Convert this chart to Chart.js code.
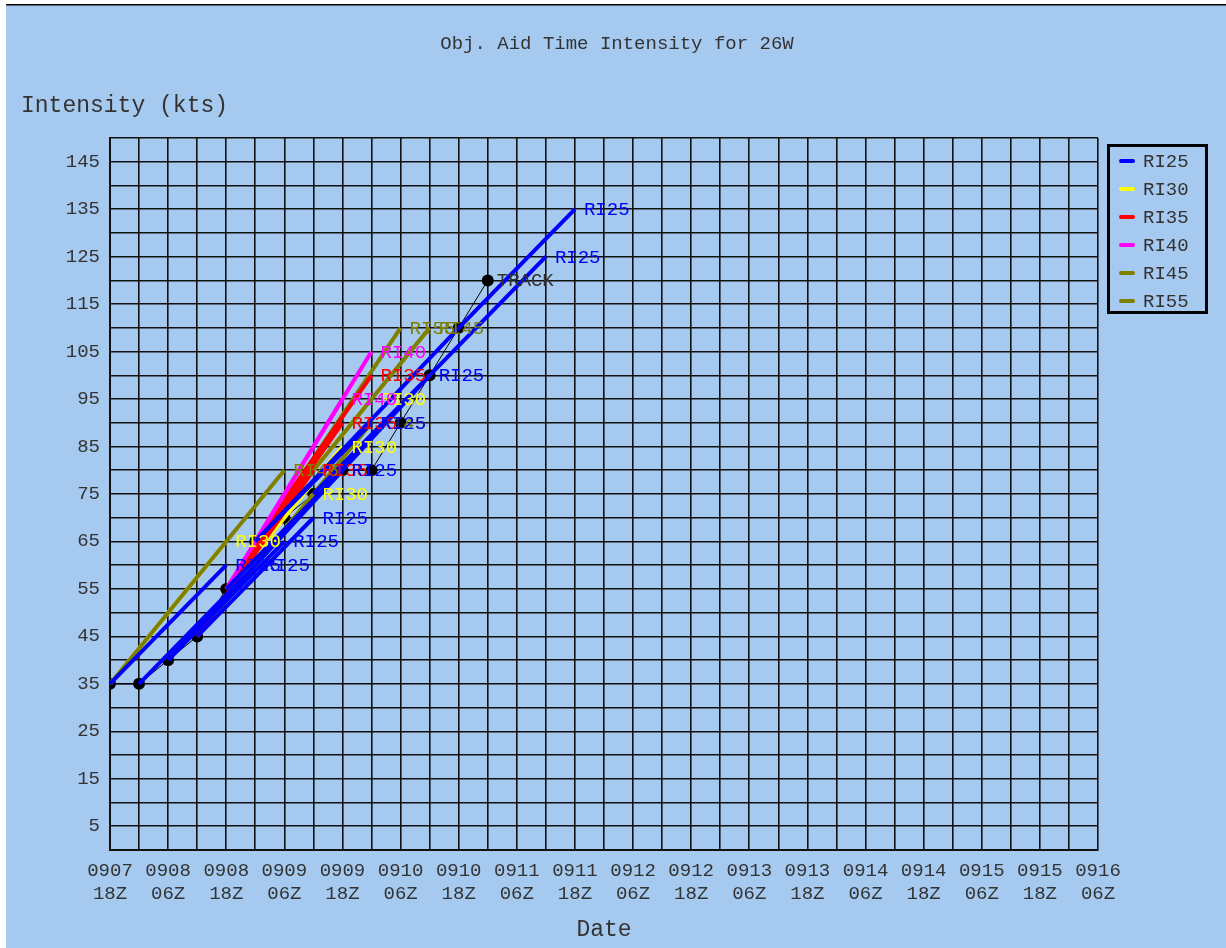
<!DOCTYPE html>
<html>
<head>
<meta charset="utf-8">
<script src="https://cdn.jsdelivr.net/npm/chart.js@4.4.0/dist/chart.umd.min.js"></script>
<style>
  html, body { margin: 0; padding: 0; background: #fff; }
</style>
</head>
<body>
<canvas id="c" width="1226" height="948"></canvas>
<script>
// x values are hours after 0907 18Z
var xTickLabels = ['0907 18Z', '0908 06Z', '0908 18Z', '0909 06Z', '0909 18Z', '0910 06Z',
  '0910 18Z', '0911 06Z', '0911 18Z', '0912 06Z', '0912 18Z', '0913 06Z', '0913 18Z',
  '0914 06Z', '0914 18Z', '0915 06Z', '0915 18Z', '0916 06Z'];
var yTickLabels = [5, 15, 25, 35, 45, 55, 65, 75, 85, 95, 105, 115, 125, 135, 145];

var trackHours = [0, 6, 12, 18, 24, 30, 36, 42, 48, 54, 60, 66, 72, 78];
var trackKts = [35, 35, 40, 45, 55, 65, 70, 75, 80, 80, 90, 100, 110, 120];

// each run: list of [hour, kts]
var ri25Runs = [
  [[0, 35], [24, 60]],
  [[6, 35], [30, 60]],
  [[12, 40], [36, 65]],
  [[18, 45], [42, 70]],
  [[24, 55], [48, 80]],
  [[30, 65], [54, 90]],
  [[12, 40], [66, 100]],
  [[42, 75], [66, 100], [90, 125]],
  [[30, 65], [72, 110], [96, 135]]
];
var ri30Runs = [
  [[0, 35], [24, 65]],
  [[18, 45], [42, 75]],
  [[24, 55], [48, 85]],
  [[30, 65], [54, 95]]
];
var ri35Runs = [
  [[18, 45], [42, 80]],
  [[24, 55], [48, 90]],
  [[30, 65], [54, 100]]
];
var ri40Runs = [
  [[24, 55], [48, 95]],
  [[30, 65], [54, 105]]
];
var ri45Runs = [
  [[0, 35], [36, 80]],
  [[18, 45], [54, 90]],
  [[30, 65], [66, 110]]
];
var ri55Runs = [
  [[24, 55], [60, 110]]
];

var aidNames = ['RI25', 'RI30', 'RI35', 'RI40', 'RI45', 'RI55'];
var aidColors = ['#0000ff', '#ffff00', '#ff0000', '#ff00ff', '#808000', '#808000'];
var allRuns = [ri25Runs, ri30Runs, ri35Runs, ri40Runs, ri45Runs, ri55Runs];

var FONT = '"Liberation Mono", "Courier New", monospace';

// dataset 0 is drawn on top: blue first, yellow last (underneath)
var drawOrder = [0, 3, 2, 4, 5, 1];
var datasets = [];
drawOrder.forEach(function (a) {
  allRuns[a].forEach(function (run) {
    datasets.push({
      label: aidNames[a],
      data: run.map(function (p) { return { x: p[0], y: p[1] }; }),
      borderColor: aidColors[a],
      backgroundColor: aidColors[a],
      borderWidth: 4,
      pointRadius: 0,
      fill: false,
      tension: 0,
      endLabel: aidNames[a]
    });
  });
});
datasets.push({
  label: 'TRACK',
  data: trackHours.map(function (h, i) { return { x: h, y: trackKts[i] }; }),
  borderColor: '#000',
  backgroundColor: '#000',
  borderWidth: 1,
  pointRadius: 6,
  pointBorderWidth: 0,
  fill: false,
  tension: 0,
  endLabel: 'TRACK'
});

var decor = {
  id: 'decor',
  beforeDraw: function (chart) {
    var ctx = chart.ctx;
    ctx.save();
    ctx.fillStyle = '#ffffff';
    ctx.fillRect(0, 0, chart.width, chart.height);
    ctx.fillStyle = '#a6c9ef';
    ctx.fillRect(6, 5, chart.width - 6, chart.height - 5);
    ctx.fillStyle = '#000';
    ctx.fillRect(6, 4, chart.width - 6, 1.5);
    ctx.restore();
  },
  afterDatasetsDraw: function (chart) {
    var ctx = chart.ctx;
    ctx.save();
    ctx.font = '19px ' + FONT;
    ctx.textBaseline = 'middle';
    // labels drawn from the bottom dataset up, so top series' labels win
    for (var i = chart.data.datasets.length - 1; i >= 0; i--) {
      var ds = chart.data.datasets[i];
      var pts = chart.getDatasetMeta(i).data;
      var last = pts[pts.length - 1];
      ctx.fillStyle = ds.endLabel === 'TRACK' ? '#333' : ds.borderColor;
      ctx.fillText(ds.endLabel, last.x + 9, last.y + 1);
    }
    ctx.restore();
  },
  afterDraw: function (chart) {
    var ctx = chart.ctx;
    ctx.save();
    ctx.fillStyle = '#333';
    ctx.textBaseline = 'middle';
    ctx.font = '19px ' + FONT;
    ctx.textAlign = 'center';
    ctx.fillText('Obj. Aid Time Intensity for 26W', 617, 44);
    ctx.font = '23px ' + FONT;
    ctx.textAlign = 'left';
    ctx.fillText('Intensity (kts)', 21, 106);

    // legend box
    ctx.lineWidth = 3;
    ctx.strokeStyle = '#000';
    ctx.strokeRect(1108.5, 145.5, 98, 167);
    ctx.font = '19px ' + FONT;
    ctx.lineCap = 'round';
    aidNames.forEach(function (name, i) {
      var y = 161 + i * 28;
      ctx.strokeStyle = aidColors[i];
      ctx.lineWidth = 4;
      ctx.beginPath();
      ctx.moveTo(1121, y);
      ctx.lineTo(1133, y);
      ctx.stroke();
      ctx.fillStyle = '#333';
      ctx.fillText(name, 1143, y + 1);
    });
    ctx.restore();
  }
};

new Chart(document.getElementById('c'), {
  type: 'line',
  data: { datasets: datasets },
  options: {
    responsive: false,
    animation: false,
    layout: { padding: { left: 0, right: 128, top: 138, bottom: 0 } },
    plugins: {
      legend: { display: false },
      tooltip: { enabled: false },
      title: { display: false }
    },
    scales: {
      x: {
        type: 'linear',
        min: 0,
        max: 204,
        grid: { color: '#111', lineWidth: 1.6, drawTicks: false },
        border: { color: '#111', width: 2 },
        ticks: {
          stepSize: 6,
          autoSkip: false,
          maxRotation: 0,
          padding: 9,
          color: '#333',
          font: { family: FONT, size: 19, lineHeight: 1.21 },
          callback: function (v) {
            if (v % 12 !== 0) return '';
            return xTickLabels[v / 12].split(' ');
          }
        },
        title: {
          display: true,
          text: 'Date',
          color: '#333',
          font: { family: FONT, size: 23 },
          padding: { top: 0, bottom: 4 }
        },
        afterFit: function (s) { s.height = 98; }
      },
      y: {
        min: 0,
        max: 150,
        grid: { color: '#111', lineWidth: 1.6, drawTicks: false },
        border: { color: '#111', width: 2 },
        ticks: {
          stepSize: 5,
          autoSkip: false,
          padding: 10,
          color: '#333',
          font: { family: FONT, size: 19 },
          callback: function (v) {
            return yTickLabels.indexOf(v) >= 0 ? String(v) : '';
          }
        },
        afterFit: function (s) { s.width = 110; }
      }
    }
  },
  plugins: [decor]
});
</script>
</body>
</html>
